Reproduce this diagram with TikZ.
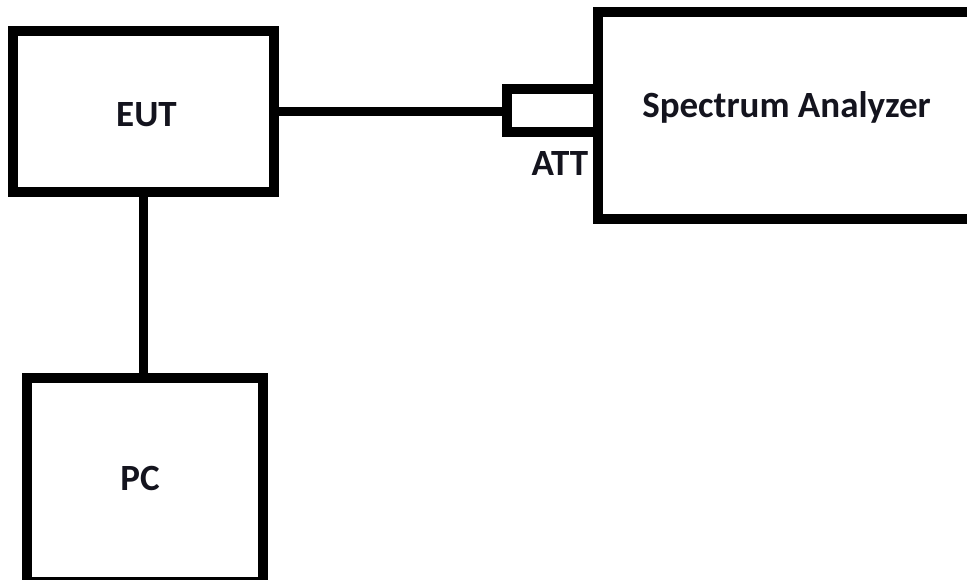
\documentclass[tikz,border=0pt]{standalone}
\usepackage{fontspec}
\setmainfont{Carlito}
\usepackage{tikz}
\usetikzlibrary{positioning, calc}
\definecolor{boxline}{RGB}{0, 0, 0}
\definecolor{labclr}{RGB}{20, 20, 30}
\tikzset{
  % Bloklar
  unitbox/.style  = {draw=boxline, line width=10pt, inner sep=0pt},
  % Ulanish chiziqlari
  wireline/.style = {draw=boxline, line width=9.5pt},
  % Etiketlar
  lab/.style      = {font=\fontsize{37}{41}\selectfont\bfseries, text=labclr, inner sep=0pt},
}
\begin{document}
\begin{tikzpicture}[x=1pt, y=-1pt]
  \useasboundingbox (0,0) rectangle (967,580);
  \clip (0,0) rectangle (967,580);
  % Bloklar
  \node[unitbox, minimum width=261pt, minimum height=161pt] (eut) at (143.5,111.5) {};
  \node[unitbox, minimum width=236pt, minimum height=204pt] (pc) at (145,480) {};
  \node[unitbox, minimum width=377pt, minimum height=207pt] (sa) at (786.5,115.5) {};
  \node[unitbox, minimum width=91pt, minimum height=43pt] (att) at (552.5,110.5) {};
  % Ulanishlar
  \draw[wireline] (eut.east) -- (eut.east -| att.west);
  \draw[wireline] (eut.south) -- (eut.south |- pc.north);
  % Etiketlar
  \node[lab] (euttext) at ($(eut.center)+(3,3)$) {EUT};
  \node[lab] (pctext) at ($(pc.center)+(-5,-2)$) {PC};
  \node[lab] (satext) at ($(sa.center)+(0,-8)$) {Spectrum Analyzer};
  \node[lab, below=14pt of att, xshift=7.5pt] (atttext) {ATT};
\end{tikzpicture}
\end{document}
